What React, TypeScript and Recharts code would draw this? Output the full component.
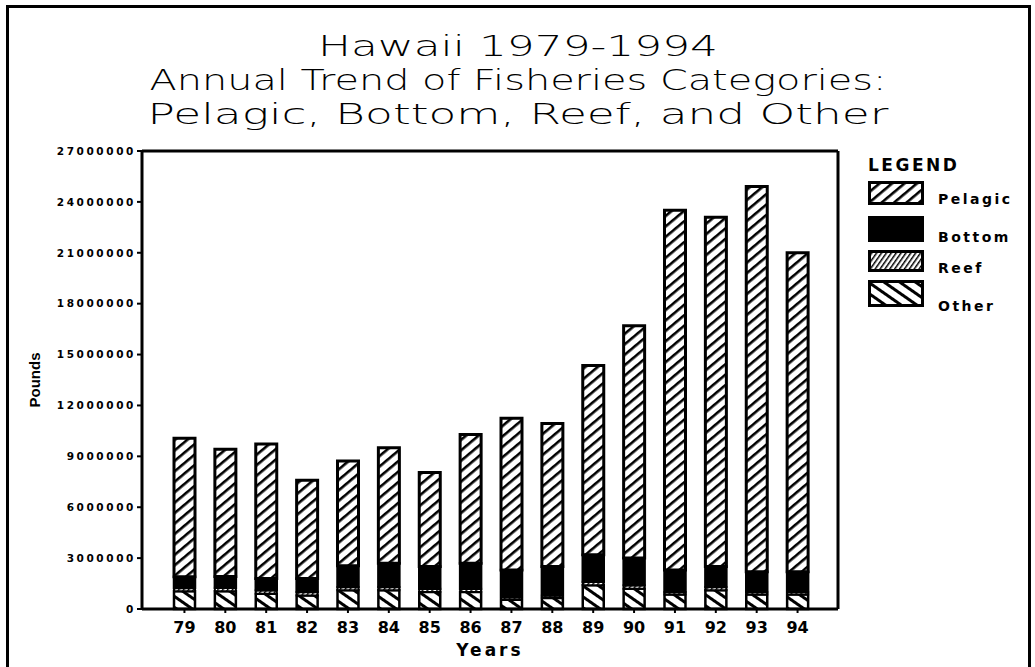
import React from 'react';
import { BarChart, Bar, XAxis, YAxis, Legend } from 'recharts';

const years = ['79', '80', '81', '82', '83', '84', '85', '86', '87', '88', '89', '90', '91', '92', '93', '94'];
const other = [1050000, 1050000, 900000, 800000, 1100000, 1100000, 1000000, 1000000, 550000, 650000, 1400000, 1200000, 850000, 1100000, 850000, 850000];
const reef = [190000, 200000, 200000, 200000, 200000, 200000, 200000, 200000, 150000, 150000, 200000, 200000, 150000, 200000, 150000, 150000];
const bottom = [660000, 660000, 700000, 800000, 1250000, 1400000, 1300000, 1500000, 1600000, 1700000, 1600000, 1600000, 1300000, 1200000, 1200000, 1200000];
const pelagic = [8160000, 7510000, 7920000, 5790000, 6170000, 6810000, 5540000, 7590000, 8940000, 8440000, 11150000, 13700000, 21200000, 20600000, 22700000, 18800000];
const yTicks = [0, 3000000, 6000000, 9000000, 12000000, 15000000, 18000000, 21000000, 24000000, 27000000];
const titleLines = ['Hawaii 1979-1994', 'Annual Trend of Fisheries Categories:', 'Pelagic, Bottom, Reef, and Other'];
const legendNames = ['Pelagic', 'Bottom', 'Reef', 'Other'];

const data = years.map((y, i) => ({
  year: y,
  Other: other[i],
  Reef: reef[i],
  Bottom: bottom[i],
  Pelagic: pelagic[i],
}));

const fills: Record<string, string> = {
  Pelagic: 'url(#pPel)',
  Bottom: '#000',
  Reef: 'url(#pReef)',
  Other: 'url(#pOther)',
};

const legendLayout = [
  { top: 26, h: 24, text: 44 },
  { top: 61, h: 26, text: 82 },
  { top: 95, h: 22, text: 113 },
  { top: 125, h: 27, text: 151 },
];

function LegendContent() {
  return (
    <div style={{ position: 'relative', width: 175, height: 170, fontFamily: 'DejaVu Sans', color: '#000' }}>
      <div style={{ position: 'absolute', left: 8, top: 0, fontSize: 17, fontWeight: 700, letterSpacing: 2.5, lineHeight: '20px' }}>LEGEND</div>
      {legendNames.map((n, i) => (
        <React.Fragment key={n}>
          <svg style={{ position: 'absolute', left: 8, top: legendLayout[i].top }} width={56} height={legendLayout[i].h}>
            <rect x={1.5} y={1.5} width={53} height={legendLayout[i].h - 3} fill={fills[n]} stroke="#000" strokeWidth={3} />
          </svg>
          <div style={{ position: 'absolute', left: 78, top: legendLayout[i].text - 9, fontSize: 14, fontWeight: 700, letterSpacing: 2.5, lineHeight: '18px' }}>{n}</div>
        </React.Fragment>
      ))}
    </div>
  );
}

function PoundsLabel(props: any) {
  const vb = props.viewBox || { x: 0, y: 0, width: 0, height: 0 };
  const x = vb.x + 4;
  const y = vb.y + vb.height / 2;
  return (
    <text x={x} y={y} transform={`rotate(-90 ${x} ${y})`} textAnchor="middle" dominantBaseline="central"
      fontFamily="Liberation Sans" fontWeight={700} fontSize={15} fill="#000">Pounds</text>
  );
}

export default function App() {
  return (
    <div style={{ position: 'relative', width: 1035, height: 667, overflow: 'hidden', background: '#fff' }}>
      <style>{'body{margin:0;background:#fff}'}</style>
      <BarChart width={1035} height={667} data={data} margin={{ top: 150, right: 196, bottom: 8, left: 30 }} barSize={21}>
        <defs>
          <pattern id="pPel" patternUnits="userSpaceOnUse" width={8} height={8} patternTransform="rotate(-40)">
            <rect width={8} height={8} fill="#fff" />
            <rect width={8} height={2.6} fill="#000" />
          </pattern>
          <pattern id="pOther" patternUnits="userSpaceOnUse" width={9} height={9} patternTransform="rotate(35)">
            <rect width={9} height={9} fill="#fff" />
            <rect width={9} height={3} fill="#000" />
          </pattern>
          <pattern id="pReef" patternUnits="userSpaceOnUse" width={4} height={4} patternTransform="rotate(-55)">
            <rect width={4} height={4} fill="#fff" />
            <rect width={4} height={1.5} fill="#000" />
          </pattern>
        </defs>
        <XAxis dataKey="year" interval={0} height={50} padding={{ left: 22, right: 20 }}
          axisLine={{ stroke: '#000', strokeWidth: 3 }} tickLine={{ stroke: '#000', strokeWidth: 2 }} tickSize={4} tickMargin={9}
          tick={{ fill: '#000', fontFamily: 'DejaVu Sans', fontWeight: 700, fontSize: 16 }}
          label={{ value: 'Years', position: 'insideBottom', offset: 3, fill: '#000', fontFamily: 'DejaVu Sans', fontWeight: 700, fontSize: 17, letterSpacing: 3 }} />
        <XAxis xAxisId="top" orientation="top" dataKey="year" height={1} tick={false} tickLine={false}
          padding={{ left: 22, right: 20 }} axisLine={{ stroke: '#000', strokeWidth: 3 }} />
        <YAxis domain={[0, 27000000]} ticks={yTicks} interval={0} width={112}
          axisLine={{ stroke: '#000', strokeWidth: 3 }} tickLine={{ stroke: '#000', strokeWidth: 2 }} tickSize={5} tickMargin={1}
          tick={{ fill: '#000', fontFamily: 'DejaVu Sans', fontWeight: 700, fontSize: 10.5, letterSpacing: 2.6 }}
          label={<PoundsLabel />} />
        <YAxis yAxisId="right" orientation="right" domain={[0, 27000000]} width={1} tick={false} tickLine={false}
          axisLine={{ stroke: '#000', strokeWidth: 3 }} />
        <Bar dataKey="Other" stackId="a" fill={fills.Other} stroke="#000" strokeWidth={2.5} isAnimationActive={false} />
        <Bar dataKey="Reef" stackId="a" fill={fills.Reef} stroke="#000" strokeWidth={2} isAnimationActive={false} />
        <Bar dataKey="Bottom" stackId="a" fill={fills.Bottom} stroke="#000" strokeWidth={2.5} isAnimationActive={false} />
        <Bar dataKey="Pelagic" stackId="a" fill={fills.Pelagic} stroke="#000" strokeWidth={3} isAnimationActive={false} />
        <Legend layout="vertical" align="center" verticalAlign="middle" content={() => <LegendContent />}
          wrapperStyle={{ position: 'absolute', left: 860, top: 155, width: 175, height: 170 }} />
      </BarChart>
      <svg width={1035} height={150} style={{ position: 'absolute', left: 0, top: 0, pointerEvents: 'none' }}>
        {titleLines.map((t, i) => (
          <text key={t} x={518} y={56 + i * 34} textAnchor="middle" fontFamily="DejaVu Sans" fontWeight={300}
            fontSize={28} fill="#000" textLength={[400, 737, 741][i]} lengthAdjust="spacingAndGlyphs">{t}</text>
        ))}
      </svg>
      <div style={{ position: 'absolute', left: 6, top: 5, width: 1025, height: 720, border: '3px solid #000', boxSizing: 'border-box', pointerEvents: 'none' }} />
    </div>
  );
}
